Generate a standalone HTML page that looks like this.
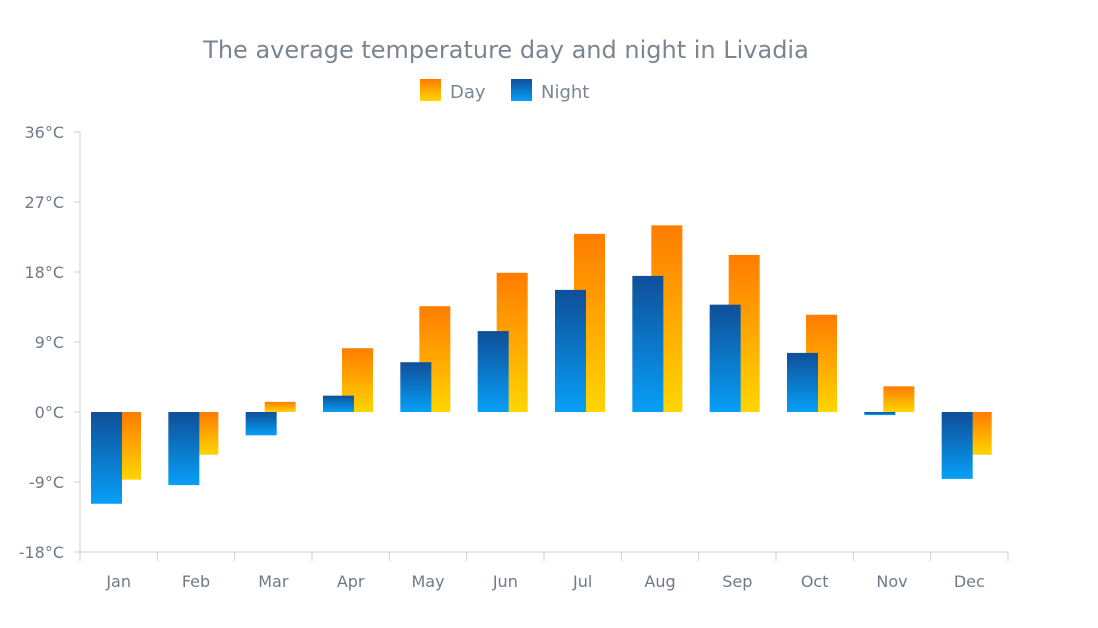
<!DOCTYPE html>
<html><head><meta charset="utf-8"><style>
body{margin:0;background:#fff;font-family:"DejaVu Sans","Liberation Sans",sans-serif}
svg{display:block}
</style></head><body>
<svg width="1098" height="628" id="c" font-family="DejaVu Sans, Liberation Sans, sans-serif">
<defs>
<linearGradient id="gn" x1="0" y1="0" x2="0" y2="1"><stop offset="0" stop-color="#0f4f98"/><stop offset="1" stop-color="#079ff7"/></linearGradient>
<linearGradient id="gd" x1="0" y1="0" x2="0" y2="1"><stop offset="0" stop-color="#ff7c00"/><stop offset="1" stop-color="#ffd500"/></linearGradient>
</defs>
<text x="506" y="58" text-anchor="middle" font-size="24" fill="#7b8592">The average temperature day and night in Livadia</text>
<g><rect x="420" y="79" width="21" height="22" fill="url(#gd)"/><text x="450" y="98" font-size="18" fill="#7b8592">Day</text></g>
<g><rect x="511" y="79" width="21" height="22" fill="url(#gn)"/><text x="541" y="98" font-size="18" fill="#7b8592">Night</text></g>
<g id="axes"></g><g id="bars"></g>
</svg>
<script>
const categories=["Jan","Feb","Mar","Apr","May","Jun","Jul","Aug","Sep","Oct","Nov","Dec"];
const dayValues=[-8.7,-5.5,1.3,8.2,13.6,17.9,22.9,24.0,20.2,12.5,3.3,-5.5];
const nightValues=[-11.8,-9.4,-3.0,2.1,6.4,10.4,15.7,17.5,13.8,7.6,-0.4,-8.6];
const yTicks=[-18,-9,0,9,18,27,36];
const NS="http://www.w3.org/2000/svg";
const X0=80,X1=1008,Y0=552,Y1=132,yMin=-18,yMax=36;
const cw=(X1-X0)/categories.length;
function y(v){return Y0-(v-yMin)/(yMax-yMin)*(Y0-Y1);}
function x(i){return X0+i*cw;}
function mk(t,a,p){const e=document.createElementNS(NS,t);for(const k in a)e.setAttribute(k,a[k]);p.appendChild(e);return e;}
const ax=document.getElementById('axes'),bs=document.getElementById('bars');
let l=mk('line',{x1:X0,x2:X0,y1:Y1,y2:Y0,stroke:'#c8ccd2'},ax);


l=mk('line',{x1:X0,x2:X1,y1:Y0,y2:Y0,stroke:'#c8ccd2'},ax);


yTicks.forEach(t=>{
 mk('line',{x1:X0-6,x2:X0,y1:y(t),y2:y(t),stroke:'#c8ccd2'},ax);
 const tx=mk('text',{x:64,y:y(t)+6,'text-anchor':'end','font-size':16,fill:'#6e7a88'},ax);
 tx.textContent=t+'°C';
 
 
});
for(let i=0;i<=categories.length;i++)mk('line',{x1:x(i),x2:x(i),y1:Y0,y2:Y0+9,stroke:'#c8ccd2'},ax);
categories.forEach((c,i)=>{
 const tx=mk('text',{x:x(i)+cw/2,y:587,'text-anchor':'middle','font-size':16,fill:'#6e7a88'},ax);
 tx.textContent=c;
 
 
 const dv=dayValues[i],nv=nightValues[i];
 const d=mk('rect',{x:x(i)+30,width:31,y:Math.min(y(dv),y(0)),height:Math.max(1,Math.abs(y(dv)-y(0))),fill:'url(#gd)'},bs);
 
 
 const n=mk('rect',{x:x(i)+11,width:31,y:Math.min(y(nv),y(0)),height:Math.max(1,Math.abs(y(nv)-y(0))),fill:'url(#gn)'},bs);
 
 
});
</script>
</body></html>
